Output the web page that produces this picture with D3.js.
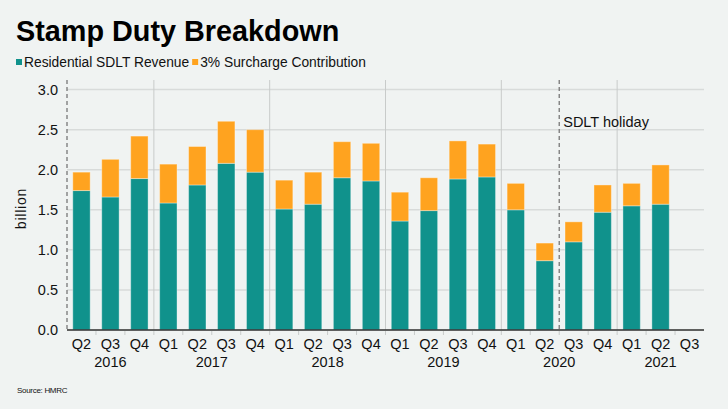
<!DOCTYPE html>
<html lang="en">
<head>
    <meta charset="UTF-8" />
    <script src="https://d3js.org/d3.v7.min.js"></script>
    <title>Stamp Duty Breakdown</title>
    <style>
        body { margin: 0; background: #f0f3f2; }
        text { font-family: "Liberation Sans", Arial, sans-serif; }
    </style>
</head>
<body>
    <script>
        // quarters and years on the x axis
        var quarters = ["Q2", "Q3", "Q4", "Q1", "Q2", "Q3", "Q4", "Q1", "Q2", "Q3", "Q4",
            "Q1", "Q2", "Q3", "Q4", "Q1", "Q2", "Q3", "Q4", "Q1", "Q2", "Q3"];
        var years = ["2016", "2016", "2016", "2017", "2017", "2017", "2017", "2018", "2018", "2018", "2018",
            "2019", "2019", "2019", "2019", "2020", "2020", "2020", "2020", "2021", "2021", "2021"];

        // billions (last quarter has no data yet)
        var residential = [1.74, 1.66, 1.89, 1.585, 1.81, 2.08, 1.97, 1.51, 1.57, 1.90, 1.86,
            1.36, 1.49, 1.885, 1.91, 1.50, 0.865, 1.10, 1.47, 1.55, 1.57, null];
        var surcharge = [0.23, 0.47, 0.53, 0.485, 0.48, 0.525, 0.53, 0.36, 0.40, 0.45, 0.47,
            0.36, 0.41, 0.475, 0.41, 0.33, 0.22, 0.25, 0.34, 0.28, 0.49, null];

        var yTicks = [0, 0.5, 1.0, 1.5, 2.0, 2.5, 3.0];
        var holidayStart = 17; // index of Q3 2020

        var width = 728, height = 409;
        var margin = { left: 67, right: 24, top: 80, bottom: 79 };
        var teal = "#10928c", orange = "#ffa31f";
        var font = "'Liberation Sans', Arial, sans-serif";

        var keys = quarters.map(function (q, i) { return i; });

        var svg = d3.select("body").append("svg")
            .attr("width", width)
            .attr("height", height)
            .style("background", "#f0f3f2");

        var x = d3.scaleBand().domain(keys)
            .range([margin.left, width - margin.right])
            .paddingInner(0.4).paddingOuter(0.2);
        var step = x.step();

        var y = d3.scaleLinear().domain([0, 3.12])
            .range([height - margin.bottom, margin.top]);

        // title + legend
        svg.append("text").attr("x", 16).attr("y", 41)
            .style("font-size", "28.8px").style("font-weight", "bold").style("fill", "#000")
            .text("Stamp Duty Breakdown");

        var legend = [
            { label: "Residential SDLT Revenue", color: teal },
            { label: "3% Surcharge Contribution", color: orange }
        ];
        var lx = 16;
        legend.forEach(function (d) {
            var g = svg.append("g").attr("transform", "translate(" + lx + ",0)");
            g.append("rect").attr("x", 0).attr("y", 59).attr("width", 6).attr("height", 6)
                .attr("fill", d.color);
            var t = g.append("text").attr("x", 8).attr("y", 67)
                .style("font-size", "13.8px").style("fill", "#111")
                .text(d.label);
            lx += 8 + t.node().getComputedTextLength() + 3;
        });

        // horizontal grid
        svg.append("g").selectAll("line").data(yTicks).enter().append("line")
            .attr("x1", margin.left).attr("x2", width - margin.right)
            .attr("y1", function (d) { return y(d); }).attr("y2", function (d) { return y(d); })
            .attr("stroke", "#d8dbda").attr("stroke-width", 1.5);

        // year boundaries
        var yearStarts = keys.filter(function (i) { return i > 0 && years[i] !== years[i - 1]; });
        svg.append("g").selectAll("line").data(yearStarts.filter(function (i) { return i !== holidayStart; }))
            .enter().append("line")
            .attr("x1", function (i) { return x(i) - step * 0.2; })
            .attr("x2", function (i) { return x(i) - step * 0.2; })
            .attr("y1", margin.top).attr("y2", y(0))
            .attr("stroke", "#c8cbca").attr("stroke-width", 1);

        // stacked bars
        var rows = keys.filter(function (i) { return residential[i] != null; }).map(function (i) {
            return { key: i, residential: residential[i], surcharge: surcharge[i] };
        });
        var stack = d3.stack().keys(["residential", "surcharge"])(rows);
        var colors = { residential: teal, surcharge: orange };

        svg.append("g").selectAll("g").data(stack).enter().append("g")
            .attr("fill", function (s) { return colors[s.key]; })
            .selectAll("rect").data(function (s) { return s; }).enter().append("rect")
            .attr("x", function (d) { return x(d.data.key); })
            .attr("width", x.bandwidth())
            .attr("y", function (d) { return y(d[1]); })
            .attr("height", function (d) { return y(d[0]) - y(d[1]); })
            .attr("stroke", "#ffffff").attr("stroke-opacity", 0.35).attr("stroke-width", 1);

        // dashed lines: left edge and SDLT holiday
        [0, holidayStart].forEach(function (i) {
            var dx = i === 0 ? margin.left : x(i) - step * 0.2;
            svg.append("line").attr("x1", dx).attr("x2", dx)
                .attr("y1", margin.top).attr("y2", y(0))
                .attr("stroke", "#777").attr("stroke-width", 1.3).attr("stroke-dasharray", "4,3");
        });
        svg.append("text").attr("x", x(holidayStart) - step * 0.2 + 4).attr("y", 127)
            .style("font-size", "14.5px").style("fill", "#111").text("SDLT holiday");

        // y axis labels
        var yAxis = svg.append("g").attr("transform", "translate(" + margin.left + ",0)")
            .call(d3.axisLeft(y).tickValues(yTicks).tickFormat(d3.format(".1f")).tickSize(0).tickPadding(9));
        yAxis.select(".domain").remove();
        yAxis.selectAll("text").style("font-size", "14.5px").style("fill", "#111")
            .style("font-family", font);

        svg.append("text")
            .attr("transform", "translate(26,208.5) rotate(-90)")
            .attr("text-anchor", "middle").style("font-size", "14px").style("fill", "#111")
            .style("letter-spacing", "0.8px")
            .text("billion");

        // x axis: quarter labels
        var xAxis = svg.append("g").attr("transform", "translate(0," + y(0) + ")")
            .call(d3.axisBottom(x).tickFormat(function (i) { return quarters[i]; }).tickSize(0).tickPadding(9));
        xAxis.select(".domain").attr("stroke", "#333").attr("stroke-width", 1.5)
            .attr("d", "M" + margin.left + ",0H" + (width - margin.right));
        xAxis.selectAll("text").style("font-size", "14.5px").style("fill", "#111")
            .style("font-family", font);

        // small ticks at band boundaries
        svg.append("g").selectAll("line").data(keys.slice(1)).enter().append("line")
            .attr("x1", function (i) { return x(i) - step * 0.2; })
            .attr("x2", function (i) { return x(i) - step * 0.2; })
            .attr("y1", y(0) + 1).attr("y2", y(0) + 5)
            .attr("stroke", "#c8cbca");

        // year labels centred under their quarters
        var yearNames = Array.from(new Set(years));
        svg.append("g").selectAll("text").data(yearNames).enter().append("text")
            .attr("x", function (yr) {
                var idx = keys.filter(function (i) { return years[i] === yr; });
                return (x(idx[0]) + x(idx[idx.length - 1]) + x.bandwidth()) / 2;
            })
            .attr("y", 367).attr("text-anchor", "middle")
            .style("font-size", "14.5px").style("fill", "#111")
            .text(function (yr) { return yr; });

        svg.append("text").attr("x", 17).attr("y", 393)
            .style("font-size", "8px").style("fill", "#111").style("letter-spacing", "-0.3px")
            .text("Source: HMRC");
    </script>
</body>
</html>
